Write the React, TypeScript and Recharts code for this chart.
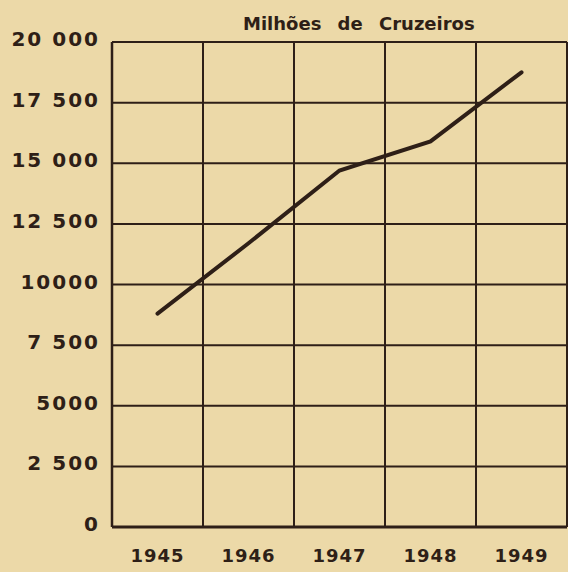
import { LineChart, Line, XAxis, YAxis, CartesianGrid } from "recharts";

const anos = ["1945", "1946", "1947", "1948", "1949"];
const valores = [8800, 11700, 14700, 15900, 18750];
const yTicks = [0, 2500, 5000, 7500, 10000, 12500, 15000, 17500, 20000];
const yTickLabels = ["0", "2 500", "5000", "7 500", "10000", "12 500", "15 000", "17 500", "20 000"];
const titulo = "Milhões de Cruzeiros";

const chartData = anos.map((ano, i) => ({ ano, valor: valores[i] }));

const BG = "#ecd9a8";
const INK = "#2e1f17";
const FONT = "'DejaVu Sans', sans-serif";

// vertical grid lines at the edges of each year's band
const bandEdges = ({ offset }: any) => {
  const n = anos.length;
  return Array.from({ length: n + 1 }, (_, i) => offset.left + (i * offset.width) / n);
};

export default function App() {
  return (
    <div style={{ position: "relative", width: 568, height: 572, background: BG }}>
      <style>{"body{margin:0}"}</style>
      <div
        style={{
          position: "absolute",
          left: 243,
          top: 14,
          fontFamily: FONT,
          fontWeight: "bold",
          fontSize: 18,
          lineHeight: "20px",
          wordSpacing: 10,
          color: INK
        }}
      >
        {titulo}
      </div>
      <LineChart
        width={568}
        height={572}
        data={chartData}
        margin={{ top: 42, right: 1, bottom: 0, left: 0 }}
      >
        <CartesianGrid
          stroke={INK}
          strokeWidth={2}
          verticalCoordinatesGenerator={bandEdges}
        />
        <XAxis
          dataKey="ano"
          padding={{ left: 45.5, right: 45.5 }}
          height={45}
          tickLine={false}
          tickSize={0}
          tickMargin={22}
          axisLine={{ stroke: INK, strokeWidth: 3 }}
          tick={{ fill: INK, fontSize: 18, fontWeight: "bold", fontFamily: FONT, letterSpacing: 1 }}
        />
        <YAxis
          width={112}
          domain={[0, 20000]}
          ticks={yTicks}
          interval={0}
          tickLine={false}
          tickSize={0}
          tickMargin={12}
          axisLine={{ stroke: INK, strokeWidth: 2.5 }}
          tickFormatter={(v: number) => yTickLabels[yTicks.indexOf(v)]}
          tick={{ fill: INK, fontSize: 20, fontWeight: "bold", fontFamily: FONT, letterSpacing: 2, dy: -3 }}
        />
        <Line
          type="linear"
          dataKey="valor"
          stroke={INK}
          strokeWidth={4}
          strokeLinecap="round"
          dot={false}
          activeDot={false}
          isAnimationActive={false}
        />
      </LineChart>
    </div>
  );
}
